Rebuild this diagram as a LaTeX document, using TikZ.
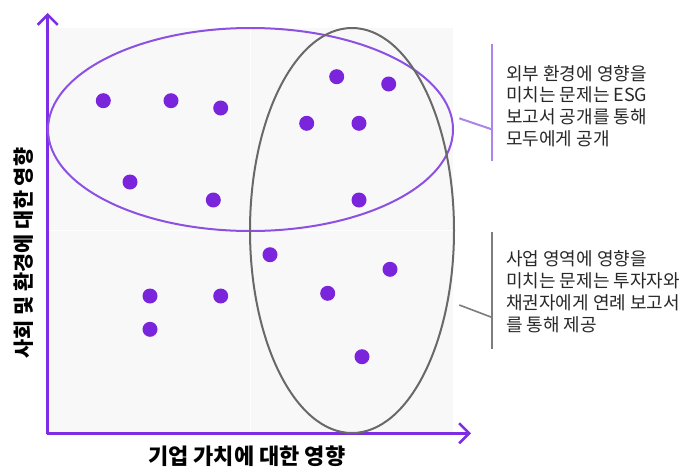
\documentclass[tikz,border=0pt]{standalone}
\usepackage{fontspec}
\newfontfamily\kr{Noto Sans CJK KR}
\usetikzlibrary{arrows.meta}
\definecolor{axispurple}{RGB}{125,45,228}
\definecolor{dotpurple}{RGB}{122,36,220}
\definecolor{ellpurple}{RGB}{140,80,226}
\definecolor{calloutpurple}{RGB}{172,132,236}
\definecolor{ellgray}{RGB}{105,105,105}
\definecolor{callgray}{RGB}{125,125,125}
\definecolor{panel}{RGB}{248,248,248}
\definecolor{txt}{RGB}{40,40,40}
\tikzset{
  dot/.style={circle,fill=dotpurple,minimum size=15pt,inner sep=0pt},
  axisline/.style={draw=axispurple,line width=3pt,line cap=round,
    -{Straight Barb[length=10pt,width=20pt,line width=2.6pt]}},
  calltext/.style={font=\kr\fontsize{18}{21.7}\selectfont,text=txt,align=left,anchor=west,inner sep=0pt},
  axislabel/.style={font=\kr\bfseries\fontsize{22}{26}\selectfont,text=black,inner sep=0pt}
}
\begin{document}
\begin{tikzpicture}[x=1pt,y=-1pt]
\useasboundingbox (0,0) rectangle (680,469);
\fill[white] (0,0) rectangle (680,469);
% panel
\fill[panel] (47,28) rectangle (453,433);
\draw[white,line width=1pt] (250,28) -- (250,433);
\draw[white,line width=1pt] (47,230) -- (453,230);
% axes
\coordinate (O) at (47.7,433.3);
\coordinate (Ytop) at (47.7,13);
\coordinate (Xend) at (471,433.3);
\draw[axisline] (O) -- (Ytop);
\draw[axisline] (O) -- (Xend);
% ellipses
\draw[ellpurple,line width=2pt] (250.5,129.5) ellipse [x radius=202.5pt, y radius=101.5pt];
\draw[ellgray,line width=2pt] (352,230.5) ellipse [x radius=102pt, y radius=202.5pt];
% dots
\node[dot] (d1) at (103.3,100.7) {};
\node[dot] (d2) at (171,100.7) {};
\node[dot] (d3) at (220.7,108) {};
\node[dot] (d4) at (336.7,76.7) {};
\node[dot] (d5) at (388.7,84) {};
\node[dot] (d6) at (306.7,123.3) {};
\node[dot] (d7) at (359,123.3) {};
\node[dot] (d8) at (130,182) {};
\node[dot] (d9) at (213.3,200) {};
\node[dot] (d10) at (359,200) {};
\node[dot] (d11) at (270,254.7) {};
\node[dot] (d12) at (390,269.3) {};
\node[dot] (d13) at (150,296) {};
\node[dot] (d14) at (220.7,296) {};
\node[dot] (d15) at (327.7,293.3) {};
\node[dot] (d16) at (150,329.3) {};
\node[dot] (d17) at (362,356.7) {};
% callout 1
\coordinate (c1top) at (491.7,44);
\coordinate (c1bot) at (491.7,160.7);
\coordinate (c1a) at (459.3,118.3);
\coordinate (c1b) at (491.7,129.3);
\draw[calloutpurple,line width=2pt] (c1top) -- (c1bot);
\draw[calloutpurple,line width=2pt] (c1a) -- (c1b);
\node[calltext] (t1) at (506,105.8) {외부 환경에 영향을\\미치는 문제는 ESG\\보고서 공개를 통해\\모두에게 공개};
% callout 2
\coordinate (c2top) at (491.7,231.7);
\coordinate (c2bot) at (491.7,349.3);
\coordinate (c2a) at (459.3,305);
\coordinate (c2b) at (491.7,317.3);
\draw[callgray,line width=1.6pt] (c2top) -- (c2bot);
\draw[callgray,line width=1.6pt] (c2a) -- (c2b);
\node[calltext] (t2) at (506,291.7) {사업 영역에 영향을\\미치는 문제는 투자자와\\채권자에게 연례 보고서\\를 통해 제공};
% axis labels
\node[axislabel] (xl) at (246.7,456.7) {기업 가치에 대한 영향};
\node[axislabel,rotate=90,font=\kr\bfseries\fontsize{20.8}{24}\selectfont] (yl) at (23.3,253) {사회 및 환경에 대한 영향};
\end{tikzpicture}
\end{document}
